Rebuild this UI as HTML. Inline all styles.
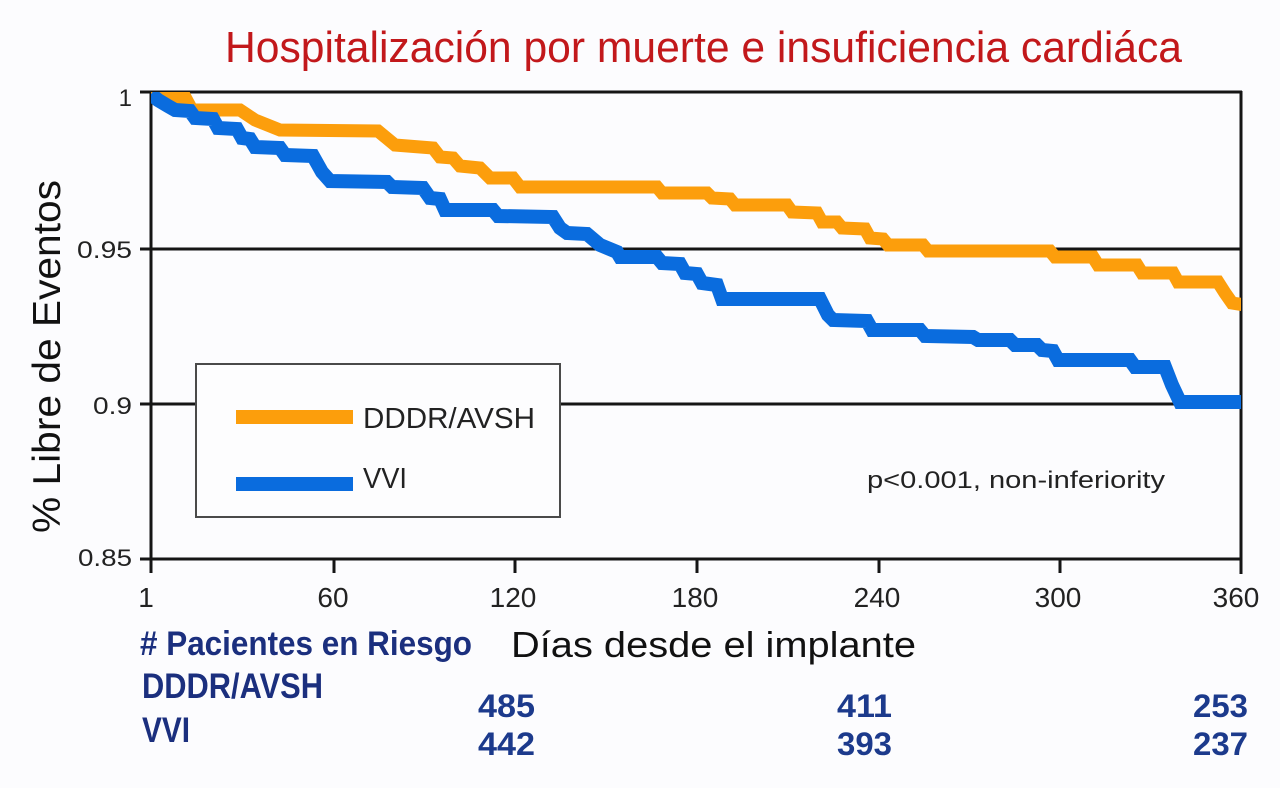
<!DOCTYPE html>
<html><head><meta charset="utf-8"><style>
html,body{margin:0;padding:0;background:#fcfcfe;}
svg{display:block;}
</style></head><body>
<svg width="1280" height="788" viewBox="0 0 1280 788" xmlns="http://www.w3.org/2000/svg">
<rect width="1280" height="788" fill="#fcfcfe"/>
<defs><clipPath id="pc"><rect x="151" y="92" width="1090" height="467"/></clipPath></defs>
<!-- title -->
<text x="225" y="62" font-family="Liberation Sans, sans-serif" font-size="44" fill="#c2181b" textLength="957" lengthAdjust="spacingAndGlyphs">Hospitalización por muerte e insuficiencia cardiáca</text>
<!-- grid lines -->
<g stroke="#151515" stroke-width="3">
<line x1="140" y1="92" x2="1242" y2="92"/>
<line x1="140" y1="249" x2="1242" y2="249"/>
<line x1="140" y1="404" x2="1242" y2="404"/>
<line x1="140" y1="559" x2="1242" y2="559"/>
<line x1="151" y1="91" x2="151" y2="573"/>
<line x1="1241" y1="91" x2="1241" y2="574"/>
<line x1="334" y1="559" x2="334" y2="573"/>
<line x1="515" y1="559" x2="515" y2="573"/>
<line x1="697" y1="559" x2="697" y2="573"/>
<line x1="879" y1="559" x2="879" y2="573"/>
<line x1="1060" y1="559" x2="1060" y2="573"/>
</g>
<!-- legend box -->
<rect x="196" y="364" width="364" height="153" fill="#fdfdfe" stroke="#4a4a4a" stroke-width="2"/>
<line x1="236" y1="417" x2="353" y2="417" stroke="#fc9e0c" stroke-width="14"/>
<line x1="236" y1="484" x2="353" y2="484" stroke="#0a6cde" stroke-width="14"/>
<text x="363" y="428" font-family="Liberation Sans, sans-serif" font-size="29" fill="#222" textLength="172" lengthAdjust="spacingAndGlyphs">DDDR/AVSH</text>
<text x="363" y="488" font-family="Liberation Sans, sans-serif" font-size="29" fill="#222" textLength="44" lengthAdjust="spacingAndGlyphs">VVI</text>
<text x="867" y="488" font-family="Liberation Sans, sans-serif" font-size="24" fill="#222" textLength="298" lengthAdjust="spacingAndGlyphs">p&lt;0.001, non-inferiority</text>
<!-- curves -->
<g clip-path="url(#pc)" fill="none" stroke-linejoin="miter">
<polyline stroke="#fc9e0c" stroke-width="13" points="151,97 185,97 192,110 240,110 255,120 280,130 378,131 395,145 433,148 440,157 453,158 460,166 480,168 490,178 513,178 520,187 657,187 662,193 707,193 712,198 730,199 735,205 787,205 792,212 817,213 822,222 837,222 842,228 865,229 870,238 883,239 888,245 923,245 928,251 1050,251 1055,257 1093,257 1098,265 1137,265 1142,273 1173,273 1178,282 1218,282 1225,293 1232,303 1245,305"/>
<polyline stroke="#0a6cde" stroke-width="14" points="151,94 158,100 168,106 175,110 190,111 195,118 213,119 218,128 237,129 242,138 250,139 255,147 280,148 285,155 313,156 322,172 330,181 387,182 392,187 423,188 430,198 440,199 445,210 493,210 498,216 553,217 560,228 567,233 587,234 600,245 617,252 620,257 657,257 662,263 680,264 685,273 697,274 702,283 717,285 722,299 820,299 828,315 833,320 867,321 872,330 920,330 925,336 973,337 978,340 1010,340 1015,345 1037,345 1042,350 1053,351 1058,360 1130,360 1135,367 1165,367 1172,385 1180,402 1245,402"/>
</g>
<!-- y tick labels -->
<g font-family="Liberation Sans, sans-serif" font-size="24" fill="#222">
<text x="132" y="106" text-anchor="end">1</text>
<text x="77" y="258" textLength="55" lengthAdjust="spacingAndGlyphs">0.95</text>
<text x="93" y="414" textLength="39" lengthAdjust="spacingAndGlyphs">0.9</text>
<text x="78" y="566" textLength="54" lengthAdjust="spacingAndGlyphs">0.85</text>
</g>
<!-- x tick labels -->
<g font-family="Liberation Sans, sans-serif" font-size="28" fill="#222" text-anchor="middle">
<text x="146" y="607">1</text>
<text x="333" y="607">60</text>
<text x="513" y="607">120</text>
<text x="695" y="607">180</text>
<text x="877" y="607">240</text>
<text x="1058" y="607">300</text>
<text x="1236" y="607">360</text>
</g>
<!-- axis labels -->
<text transform="translate(60,533) rotate(-90)" x="0" y="0" font-family="Liberation Sans, sans-serif" font-size="39" fill="#111" textLength="353" lengthAdjust="spacingAndGlyphs">% Libre de Eventos</text>
<text x="511" y="657" font-family="Liberation Sans, sans-serif" font-size="36" fill="#111" textLength="405" lengthAdjust="spacingAndGlyphs">Días desde el implante</text>
<!-- table -->
<g font-family="Liberation Sans, sans-serif" font-weight="bold" fill="#1b2f7e">
<text x="140" y="655" font-size="34" textLength="332" lengthAdjust="spacingAndGlyphs"># Pacientes en Riesgo</text>
<text x="142" y="698" font-size="35" textLength="181" lengthAdjust="spacingAndGlyphs">DDDR/AVSH</text>
<text x="142" y="742" font-size="35" textLength="48" lengthAdjust="spacingAndGlyphs">VVI</text>
</g>
<g font-family="Liberation Sans, sans-serif" font-weight="bold" fill="#1c3a8c" font-size="32">
<text x="478" y="717" textLength="57" lengthAdjust="spacingAndGlyphs">485</text>
<text x="478" y="755" textLength="57" lengthAdjust="spacingAndGlyphs">442</text>
<text x="837" y="717" textLength="55" lengthAdjust="spacingAndGlyphs">411</text>
<text x="837" y="755" textLength="55" lengthAdjust="spacingAndGlyphs">393</text>
<text x="1193" y="717" textLength="55" lengthAdjust="spacingAndGlyphs">253</text>
<text x="1193" y="755" textLength="55" lengthAdjust="spacingAndGlyphs">237</text>
</g>
</svg>
</body></html>
